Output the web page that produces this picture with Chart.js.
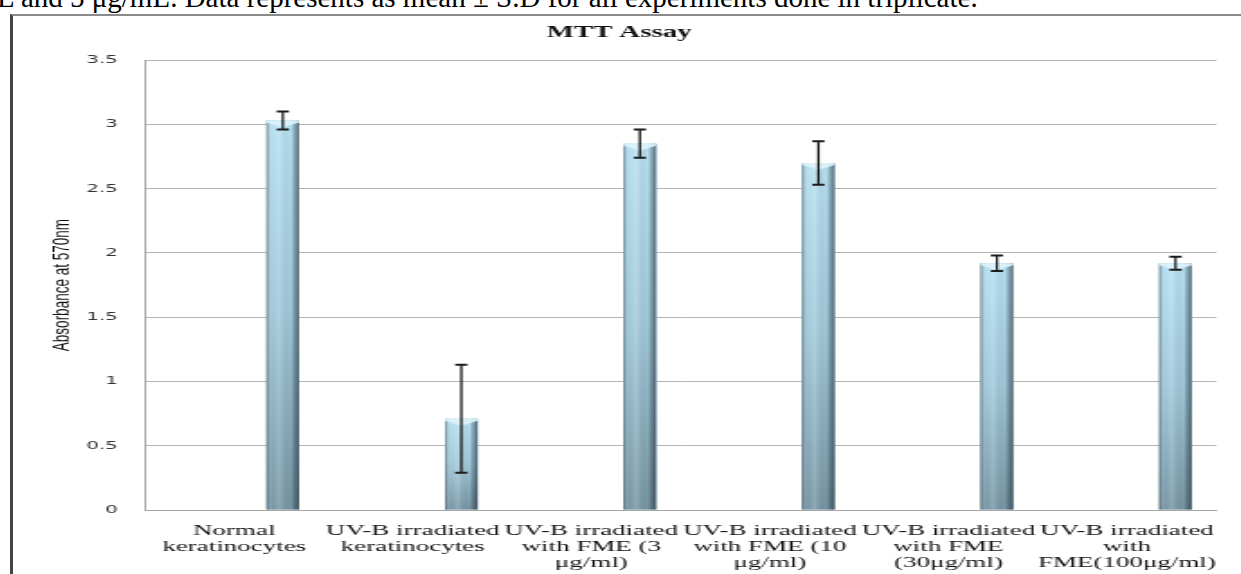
<!DOCTYPE html>
<html>
<head>
<meta charset="utf-8">
<script src="https://cdn.jsdelivr.net/npm/chart.js@4.4.1/dist/chart.umd.min.js"></script>
<style>
html, body { margin:0; padding:0; background:#fff; width:1241px; height:574px; overflow:hidden; }
#caption { position:absolute; left:-3px; top:-17px; font:29px/29px "Liberation Serif", serif; white-space:nowrap; color:#000; }
#frame { position:absolute; left:10px; top:14px; width:1240px; height:570px; border-left:3px solid #444; border-top:2px solid #8a8a8a; }
#myChart { position:absolute; left:13px; top:15px; transform:scaleX(1.8); transform-origin:0 0; }
</style>
</head>
<body>
<div id="caption">L and 5 μg/mL. Data represents as mean ± S.D for all experiments done in triplicate.</div>
<div id="frame"></div>
<canvas id="myChart" width="682" height="559"></canvas>
<script>
// MTT assay, absorbance at 570nm (mean and S.D, triplicate)
const labels = [
    ["Normal", "keratinocytes"],
    ["UV-B irradiated", "keratinocytes"],
    ["UV-B irradiated", "with FME (3", "μg/ml)"],
    ["UV-B irradiated", "with FME (10", "μg/ml)"],
    ["UV-B irradiated", "with FME", "(30μg/ml)"],
    ["UV-B irradiated", "with", "FME(100μg/ml)"]
]
const absorbance = [3.03, 0.71, 2.85, 2.70, 1.92, 1.92]
const sd = [0.07, 0.42, 0.11, 0.17, 0.06, 0.05]
// the original sheet had an empty first series, it only takes up space
const blank = [null, null, null, null, null, null]
const yTicks = [0, 0.5, 1, 1.5, 2, 2.5, 3, 3.5]

// cylinder look on top of the plain bars
const barShading = {
    id: "barShading",
    afterDatasetDraw(chart, args) {
        if (args.index !== 1) return;
        const c = chart.ctx;
        args.meta.data.forEach(bar => {
            const w = bar.width, left = bar.x - w / 2, top = bar.y, h = bar.base - bar.y;
            c.save();
            let g = c.createLinearGradient(0, top, 0, bar.base);
            g.addColorStop(0, "#b6e0f2");
            g.addColorStop(0.5, "#a0c8da");
            g.addColorStop(1, "#7695a4");
            c.fillStyle = g;
            c.fillRect(left, top, w, h);
            g = c.createLinearGradient(left, 0, left + w, 0);
            g.addColorStop(0, "rgba(50,70,80,0.6)");
            g.addColorStop(0.18, "rgba(255,255,255,0)");
            g.addColorStop(0.4, "rgba(255,255,255,0.18)");
            g.addColorStop(0.75, "rgba(0,0,0,0)");
            g.addColorStop(1, "rgba(40,55,65,0.65)");
            c.fillStyle = g;
            c.fillRect(left, top, w, h);
            c.fillStyle = "rgba(222,243,251,0.9)";
            c.beginPath();
            c.moveTo(left, top);
            c.lineTo(left + w, top);
            c.lineTo(left + w, top + 2);
            c.lineTo(bar.x, top + 7);
            c.lineTo(left, top + 2);
            c.closePath();
            c.fill();
            c.restore();
        });
    }
}

// mean +/- S.D whiskers
const errorBars = {
    id: "errorBars",
    afterDatasetsDraw(chart) {
        const c = chart.ctx, y = chart.scales.y;
        const meta = chart.getDatasetMeta(1);
        c.save();
        c.strokeStyle = "#1b1b1b";
        meta.data.forEach((bar, i) => {
            const hi = y.getPixelForValue(absorbance[i] + sd[i]);
            const lo = y.getPixelForValue(absorbance[i] - sd[i]);
            c.lineWidth = 1.3;
            c.beginPath();
            c.moveTo(bar.x, hi);
            c.lineTo(bar.x, lo);
            c.stroke();
            c.lineWidth = 2;
            c.beginPath();
            c.moveTo(bar.x - 3.4, hi);
            c.lineTo(bar.x + 3.4, hi);
            c.moveTo(bar.x - 3.4, lo);
            c.lineTo(bar.x + 3.4, lo);
            c.stroke();
        });
        c.restore();
    }
}

const config = {
    type: "bar",
    data: {
        labels,
        datasets: [{
            label: "",
            data: blank,
            categoryPercentage: 1.088,
            barPercentage: 0.336
        }, {
            label: "Absorbance",
            data: absorbance,
            backgroundColor: "#9fc7d9",
            borderWidth: 0,
            categoryPercentage: 1.088,
            barPercentage: 0.336
        }]
    },
    options: {
        responsive: false,
        animation: false,
        devicePixelRatio: 1,
        layout: { padding: { left: 0, right: 8.7, top: 0, bottom: 0 } },
        plugins: {
            legend: { display: false },
            tooltip: { enabled: false },
            title: {
                display: true,
                text: "MTT Assay",
                color: "#111",
                font: { family: '"Liberation Serif", serif', size: 16, weight: "bold", lineHeight: 1.2 },
                padding: { top: 8, bottom: 18 }
            }
        },
        scales: {
            x: {
                grid: { display: false, drawTicks: false },
                border: { display: true, color: "#a6a6a6", width: 1 },
                ticks: {
                    color: "#111",
                    padding: 13,
                    autoSkip: false,
                    maxRotation: 0,
                    minRotation: 0,
                    font: { family: '"Liberation Serif", serif', size: 15, lineHeight: 1.07 }
                },
                afterFit(s) { s.height = 64; }
            },
            y: {
                min: 0,
                max: 3.5,
                afterBuildTicks(s) { s.ticks = yTicks.map(v => ({ value: v })); },
                grid: { color: "#b3b3b3", drawTicks: false },
                border: { color: "#a6a6a6" },
                ticks: {
                    color: "#333",
                    padding: 15,
                    font: { family: '"DejaVu Sans", sans-serif', size: 11 },
                    callback: v => String(v)
                },
                title: {
                    display: true,
                    text: "Absorbance at 570nm",
                    color: "#111",
                    font: { family: '"Liberation Sans", sans-serif', size: 13.5 },
                    padding: { top: 19, bottom: 0 }
                },
                afterFit(s) { s.width = 73.3; }
            }
        }
    },
    plugins: [barShading, errorBars]
}

const ctx = document.querySelector("#myChart");
let myChart = new Chart(ctx, config);
</script>
</body>
</html>
